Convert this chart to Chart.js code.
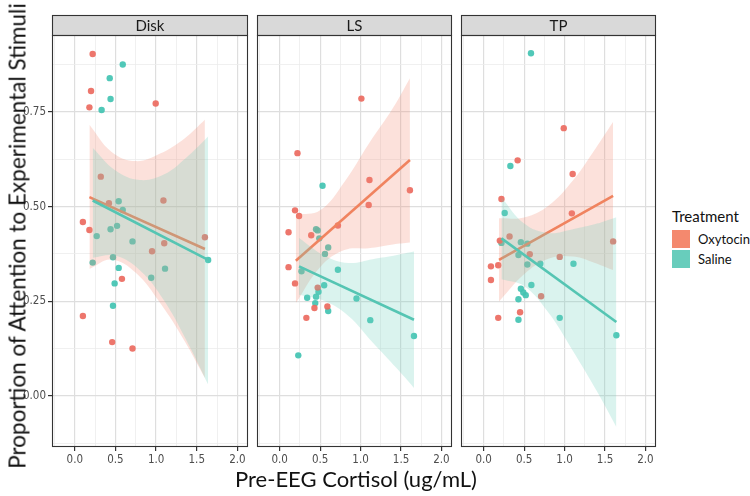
<!DOCTYPE html>
<html>
<head>
<meta charset="utf-8">
<script src="https://cdn.jsdelivr.net/npm/chart.js@4.4.1/dist/chart.umd.min.js"></script>
<style>
body { margin: 0; background: #fff; }
#wrap { position: relative; width: 750px; height: 496px; overflow: hidden; font-family: Lato, 'Open Sans', sans-serif; }
#wrap canvas { position: absolute; top: 0; }
.ytitle { position: absolute; left: 17px; top: 236px; transform: translate(-50%, -50%) rotate(-90deg); white-space: nowrap; font-size: 22.5px; color: #111; }
.xtitle { position: absolute; left: 356px; top: 478px; transform: translate(-50%, -50%); white-space: nowrap; font-size: 22px; color: #111; }
.legend { position: absolute; left: 672px; top: 207px; color: #111; }
.legend .head { font-size: 15px; margin-bottom: 4px; }
.legend .row { height: 20px; display: flex; align-items: center; font-size: 13px; }
.legend .key { width: 18px; height: 18px; margin-right: 8px; }
</style>
</head>
<body>
<div id="wrap">
	<canvas id="chart-disk" width="252" height="496" style="left:0px"></canvas>
	<canvas id="chart-ls" width="203" height="496" style="left:253px"></canvas>
	<canvas id="chart-tp" width="203" height="496" style="left:457px"></canvas>
	<div class="ytitle">Proportion of Attention to Experimental Stimuli</div>
	<div class="xtitle">Pre-EEG Cortisol (ug/mL)</div>
	<div class="legend">
		<div class="head">Treatment</div>
		<div class="row"><div class="key" style="background:#F4896E"></div>Oxytocin</div>
		<div class="row"><div class="key" style="background:#68CDBC"></div>Saline</div>
	</div>
</div>
<script>
// facet names, tick values / labels
var panels = ['Disk', 'LS', 'TP'];
var xTicks = [0, 0.5, 1, 1.5, 2];
var xTickLabels = ['0.0', '0.5', '1.0', '1.5', '2.0'];
var yTicks = [0, 0.25, 0.5, 0.75];
var yTickLabels = ['0.00', '0.25', '0.50', '0.75'];

// Disk
var diskOxyX = [0.22, 0.20, 0.18, 0.995, 0.32, 0.42, 1.09, 0.10, 0.18, 1.10, 0.95, 1.60, 0.58, 0.10, 0.46, 0.71];
var diskOxyY = [0.903, 0.805, 0.762, 0.772, 0.579, 0.509, 0.516, 0.459, 0.438, 0.403, 0.382, 0.419, 0.309, 0.211, 0.142, 0.125];
var diskSalX = [0.59, 0.43, 0.44, 0.33, 0.54, 0.59, 0.27, 0.44, 0.52, 0.71, 1.64, 0.22, 0.47, 0.54, 0.94, 1.11, 0.49, 0.47];
var diskSalY = [0.875, 0.839, 0.784, 0.755, 0.514, 0.491, 0.422, 0.440, 0.449, 0.408, 0.359, 0.352, 0.366, 0.338, 0.312, 0.336, 0.297, 0.238];
var diskOxyFitX = [0.18, 1.60];
var diskOxyFitY = [0.525, 0.388];
var diskOxyBandX = [0.18, 0.45, 0.75, 1.05, 1.35, 1.60];
var diskOxyBandHi = [0.716, 0.645, 0.620, 0.640, 0.680, 0.729];
var diskOxyBandLo = [0.335, 0.360, 0.325, 0.245, 0.145, 0.047];
var diskSalFitX = [0.22, 1.64];
var diskSalFitY = [0.516, 0.359];
var diskSalBandX = [0.22, 0.50, 0.80, 1.10, 1.40, 1.64];
var diskSalBandHi = [0.655, 0.595, 0.570, 0.585, 0.635, 0.685];
var diskSalBandLo = [0.365, 0.370, 0.332, 0.251, 0.135, 0.030];

// LS
var lsOxyX = [1.01, 0.22, 1.11, 1.61, 1.10, 0.19, 0.24, 0.11, 0.39, 0.72, 0.11, 0.19, 0.47, 0.43, 0.59, 0.33];
var lsOxyY = [0.785, 0.641, 0.570, 0.543, 0.504, 0.490, 0.475, 0.432, 0.424, 0.450, 0.340, 0.297, 0.286, 0.232, 0.236, 0.206];
var lsSalX = [0.53, 0.45, 0.47, 0.49, 0.60, 0.56, 0.27, 0.72, 0.55, 0.48, 0.34, 0.45, 0.95, 0.44, 0.60, 1.12, 1.66, 0.23];
var lsSalY = [0.555, 0.440, 0.437, 0.416, 0.392, 0.375, 0.329, 0.333, 0.292, 0.275, 0.259, 0.262, 0.257, 0.245, 0.224, 0.200, 0.158, 0.107];
var lsOxyFitX = [0.20, 1.61];
var lsOxyFitY = [0.357, 0.623];
var lsOxyBandX = [0.20, 0.50, 0.80, 1.10, 1.40, 1.61];
var lsOxyBandHi = [0.478, 0.490, 0.565, 0.665, 0.760, 0.839];
var lsOxyBandLo = [0.245, 0.340, 0.385, 0.390, 0.400, 0.405];
var lsSalFitX = [0.24, 1.66];
var lsSalFitY = [0.342, 0.201];
var lsSalBandX = [0.24, 0.55, 0.85, 1.15, 1.45, 1.66];
var lsSalBandHi = [0.417, 0.371, 0.351, 0.361, 0.372, 0.381];
var lsSalBandLo = [0.267, 0.251, 0.211, 0.141, 0.072, 0.021];

// TP
var tpOxyX = [0.99, 0.42, 1.10, 0.22, 1.09, 0.32, 1.60, 0.20, 0.57, 0.94, 0.09, 0.18, 0.09, 0.71, 0.45, 0.18];
var tpOxyY = [0.707, 0.622, 0.586, 0.520, 0.482, 0.421, 0.408, 0.410, 0.374, 0.367, 0.342, 0.345, 0.306, 0.263, 0.221, 0.206];
var tpSalX = [0.585, 0.33, 0.26, 0.22, 0.46, 0.54, 0.43, 0.54, 0.70, 1.11, 0.59, 0.46, 0.49, 0.52, 0.43, 0.43, 0.94, 1.64];
var tpSalY = [0.905, 0.607, 0.483, 0.404, 0.406, 0.402, 0.372, 0.347, 0.349, 0.349, 0.293, 0.283, 0.273, 0.266, 0.255, 0.201, 0.206, 0.160];
var tpOxyFitX = [0.19, 1.60];
var tpOxyFitY = [0.359, 0.528];
var tpOxyBandX = [0.19, 0.50, 0.80, 1.10, 1.35, 1.60];
var tpOxyBandHi = [0.469, 0.471, 0.502, 0.568, 0.643, 0.724];
var tpOxyBandLo = [0.249, 0.321, 0.362, 0.368, 0.353, 0.332];
var tpSalFitX = [0.22, 1.64];
var tpSalFitY = [0.416, 0.195];
var tpSalBandX = [0.22, 0.50, 0.80, 1.10, 1.40, 1.64];
var tpSalBandHi = [0.524, 0.455, 0.430, 0.440, 0.455, 0.472];
var tpSalBandLo = [0.308, 0.290, 0.220, 0.120, 0.012, -0.082];

var oxyPoint = 'rgba(236,106,96,0.92)';
var salPoint = 'rgba(66,195,178,0.92)';
var oxyLine = '#F0835F';
var salLine = '#55C5B3';
var oxyBand = 'rgba(244,137,110,0.25)';
var salBand = 'rgba(107,207,189,0.25)';
var tickFont = "'Liberation Sans Narrow', 'DejaVu Sans Condensed', sans-serif";

function pts(xs, ys) {
	return xs.map(function(x, i) { return {x: x, y: ys[i]}; });
}

function labelFor(v, ticks, labels) {
	for (var i = 0; i < ticks.length; i++) {
		if (Math.abs(v - ticks[i]) < 1e-6) return labels[i];
	}
	return '';
}

function isMajor(v, ticks) {
	return labelFor(v, ticks, ticks.map(function() { return 'x'; })) !== '';
}

// strip on top + panel border
var panelFrame = {
	id: 'panelFrame',
	afterDraw: function(chart, args, opts) {
		var ctx = chart.ctx, a = chart.chartArea;
		ctx.save();
		ctx.fillStyle = '#d9d9d9';
		ctx.fillRect(a.left, 15, a.right - a.left, a.top - 15);
		ctx.strokeStyle = '#333';
		ctx.lineWidth = 1.1;
		ctx.strokeRect(a.left + 0.5, 15.5, a.right - a.left - 1, a.top - 15);
		ctx.strokeRect(a.left + 0.5, a.top + 0.5, a.right - a.left - 1, a.bottom - a.top - 1);
		ctx.fillStyle = '#1a1a1a';
		ctx.font = '15px Lato, sans-serif';
		ctx.textAlign = 'center';
		ctx.textBaseline = 'middle';
		ctx.fillText(opts.label, (a.left + a.right) / 2, (15 + a.top) / 2 + 1);
		ctx.restore();
	}
};

function makePanel(id, name, d, first) {
	var datasets = [
		{ data: pts(d.oxyX, d.oxyY), showLine: false, pointRadius: 3.2, pointBorderWidth: 0, pointBackgroundColor: oxyPoint, order: 4 },
		{ data: pts(d.salX, d.salY), showLine: false, pointRadius: 3.2, pointBorderWidth: 0, pointBackgroundColor: salPoint, order: 4 },
		{ data: pts(d.oxyBandX, d.oxyBandHi), borderWidth: 0, pointRadius: 0, tension: 0.4, fill: false, order: 3 },
		{ data: pts(d.oxyBandX, d.oxyBandLo), borderWidth: 0, pointRadius: 0, tension: 0.4, fill: '-1', backgroundColor: oxyBand, order: 3 },
		{ data: pts(d.oxyFitX, d.oxyFitY), borderColor: oxyLine, borderWidth: 2.6, pointRadius: 0, order: 2 },
		{ data: pts(d.salBandX, d.salBandHi), borderWidth: 0, pointRadius: 0, tension: 0.4, fill: false, order: 1 },
		{ data: pts(d.salBandX, d.salBandLo), borderWidth: 0, pointRadius: 0, tension: 0.4, fill: '-1', backgroundColor: salBand, order: 1 },
		{ data: pts(d.salFitX, d.salFitY), borderColor: salLine, borderWidth: 2.6, pointRadius: 0, order: 0 }
	];

	var config = {
		type: 'line',
		data: { datasets: datasets },
		options: {
			responsive: false,
			animation: false,
			events: [],
			layout: { padding: { top: 35, right: 3, left: first ? 0 : 3, bottom: 0 } },
			plugins: {
				legend: { display: false },
				tooltip: { enabled: false },
				panelFrame: { label: name }
			},
			scales: {
				x: {
					type: 'linear',
					min: -0.28,
					max: 2.13,
					afterFit: function(s) { s.height = 49; },
					border: { display: false },
					grid: {
						color: function(c) { return isMajor(c.tick.value, xTicks) ? '#dedede' : '#ececec'; },
						lineWidth: function(c) { return isMajor(c.tick.value, xTicks) ? 1.2 : 0.8; },
						tickLength: 4,
						tickColor: function(c) { return isMajor(c.tick.value, xTicks) ? '#333' : 'rgba(0,0,0,0)'; }
					},
					ticks: {
						stepSize: 0.25,
						includeBounds: false,
						autoSkip: false,
						maxRotation: 0,
						padding: 2,
						color: '#4d4d4d',
						font: { family: tickFont, size: 11.5 },
						callback: function(v) { return labelFor(v, xTicks, xTickLabels); }
					}
				},
				y: {
					min: -0.135,
					max: 0.953,
					afterFit: function(s) { s.width = first ? 52 : 0; },
					border: { display: false },
					grid: {
						color: function(c) { return isMajor(c.tick.value, yTicks) ? '#dedede' : '#ececec'; },
						lineWidth: function(c) { return isMajor(c.tick.value, yTicks) ? 1.2 : 0.8; },
						drawTicks: first,
						tickLength: 4,
						tickColor: function(c) { return isMajor(c.tick.value, yTicks) ? '#333' : 'rgba(0,0,0,0)'; }
					},
					ticks: {
						display: first,
						stepSize: 0.125,
						includeBounds: false,
						autoSkip: false,
						padding: 2,
						color: '#4d4d4d',
						font: { family: tickFont, size: 11.5 },
						callback: function(v) { return labelFor(v, yTicks, yTickLabels); }
					}
				}
			}
		},
		plugins: [panelFrame]
	};

	var ctx = document.getElementById(id).getContext('2d');
	return new Chart(ctx, config);
}

var chartDisk = makePanel('chart-disk', panels[0], {
	oxyX: diskOxyX, oxyY: diskOxyY, salX: diskSalX, salY: diskSalY,
	oxyFitX: diskOxyFitX, oxyFitY: diskOxyFitY, oxyBandX: diskOxyBandX, oxyBandHi: diskOxyBandHi, oxyBandLo: diskOxyBandLo,
	salFitX: diskSalFitX, salFitY: diskSalFitY, salBandX: diskSalBandX, salBandHi: diskSalBandHi, salBandLo: diskSalBandLo
}, true);

var chartLS = makePanel('chart-ls', panels[1], {
	oxyX: lsOxyX, oxyY: lsOxyY, salX: lsSalX, salY: lsSalY,
	oxyFitX: lsOxyFitX, oxyFitY: lsOxyFitY, oxyBandX: lsOxyBandX, oxyBandHi: lsOxyBandHi, oxyBandLo: lsOxyBandLo,
	salFitX: lsSalFitX, salFitY: lsSalFitY, salBandX: lsSalBandX, salBandHi: lsSalBandHi, salBandLo: lsSalBandLo
}, false);

var chartTP = makePanel('chart-tp', panels[2], {
	oxyX: tpOxyX, oxyY: tpOxyY, salX: tpSalX, salY: tpSalY,
	oxyFitX: tpOxyFitX, oxyFitY: tpOxyFitY, oxyBandX: tpOxyBandX, oxyBandHi: tpOxyBandHi, oxyBandLo: tpOxyBandLo,
	salFitX: tpSalFitX, salFitY: tpSalFitY, salBandX: tpSalBandX, salBandHi: tpSalBandHi, salBandLo: tpSalBandLo
}, false);
</script>
</body>
</html>
